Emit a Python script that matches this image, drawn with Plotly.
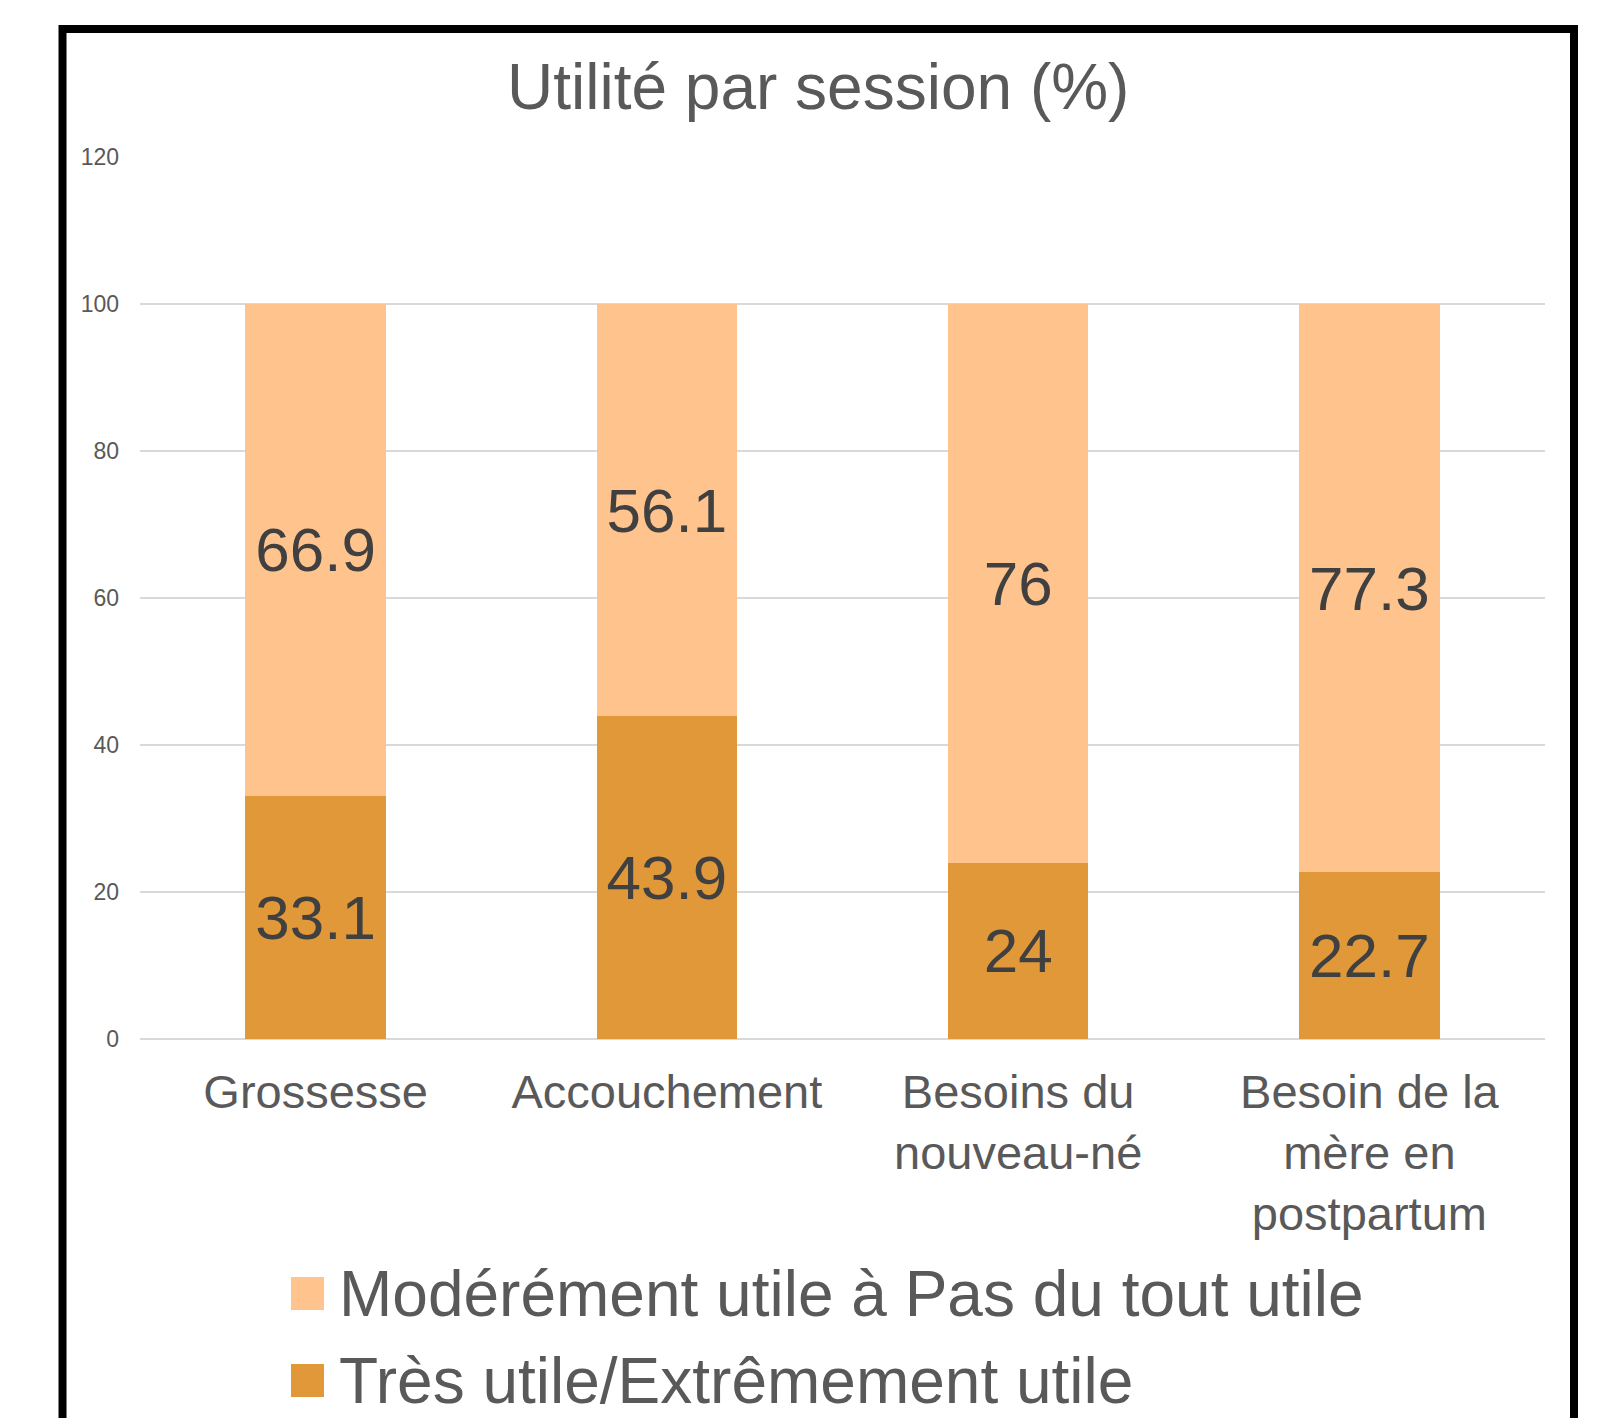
import plotly.graph_objects as go

# ---- data ----
categories = ["Grossesse", "Accouchement", "Besoins du<br>nouveau-né",
              "Besoin de la<br>mère en<br>postpartum"]
series_names = ["Modérément utile à Pas du tout utile", "Très utile/Extrêmement utile"]
tres_utile = [33.1, 43.9, 24, 22.7]
moderement = [66.9, 56.1, 76, 77.3]
y_tickvals = [0, 20, 40, 60, 80, 100, 120]
title_text = "Utilité par session (%)"

# ---- style ----
FONT = "Arial, Liberation Sans, sans-serif"
C_LIGHT = "#FFC38D"
C_DARK = "#E19839"
C_TEXT = "#595959"
C_LABEL = "#404040"
C_GRID = "#D9D9D9"

OFF = 8  # default page body margin
FIG_W, FIG_H = 1609 - OFF, 1418 - OFF
# plot area in page pixels
L, R, T, B = 140, 1545, 157, 1039
PW, PH = R - L, B - T


def px_x(px):
    return (px - L) / PW


def px_y(py):
    return (B - py) / PH


fig = go.Figure()
fig.add_trace(go.Bar(
    x=categories, y=tres_utile, name=series_names[1],
    marker=dict(color=C_DARK, line=dict(width=0)),
    text=[f"{v:g}" for v in tres_utile], textposition="inside",
    insidetextanchor="middle", constraintext="none",
    textfont=dict(family=FONT, size=62, color=C_LABEL),
    showlegend=False,
))
fig.add_trace(go.Bar(
    x=categories, y=moderement, name=series_names[0],
    marker=dict(color=C_LIGHT, line=dict(width=0)),
    text=[f"{v:g}" for v in moderement], textposition="inside",
    insidetextanchor="middle", constraintext="none",
    textfont=dict(family=FONT, size=62, color=C_LABEL),
    showlegend=False,
))

shapes = []
# outer black border
shapes.append(dict(type="rect", xref="paper", yref="paper",
                   x0=px_x(62.5), x1=px_x(1574), y0=px_y(1460), y1=px_y(29),
                   line=dict(color="black", width=8), fillcolor="rgba(0,0,0,0)",
                   layer="above"))

annotations = [dict(text=title_text, xref="paper", yref="paper",
                    x=px_x(818), y=px_y(87), xanchor="center", yanchor="middle",
                    showarrow=False, font=dict(family=FONT, size=64, color=C_TEXT))]

# manual legend
legend_items = [(series_names[0], C_LIGHT, 1277), (series_names[1], C_DARK, 1364)]
for name, col, top in legend_items:
    shapes.append(dict(type="rect", xref="paper", yref="paper",
                       x0=px_x(291), x1=px_x(324), y0=px_y(top + 33), y1=px_y(top),
                       line=dict(width=0), fillcolor=col))
    annotations.append(dict(text=name, xref="paper", yref="paper",
                            x=px_x(337), y=px_y(top + 16.5), xanchor="left", yanchor="middle",
                            showarrow=False, font=dict(family=FONT, size=64, color=C_TEXT)))

fig.update_layout(
    width=FIG_W, height=FIG_H,
    margin=dict(l=L - OFF, r=FIG_W - (R - OFF), t=T - OFF, b=FIG_H - (B - OFF), pad=0),
    barmode="stack", bargap=0.6,
    paper_bgcolor="white", plot_bgcolor="white",
    font=dict(family=FONT, color=C_TEXT),
    shapes=shapes, annotations=annotations,
    showlegend=False,
)
fig.update_xaxes(
    showgrid=False, showline=False, zeroline=False, ticks="",
    tickfont=dict(family=FONT, size=47, color=C_TEXT),
    ticklabelstandoff=21,
)
fig.update_yaxes(
    range=[0, 120], tickvals=y_tickvals,
    showgrid=True, gridcolor=C_GRID, gridwidth=1.5,
    zeroline=True, zerolinecolor=C_GRID, zerolinewidth=1.5,
    showline=False, ticks="",
    tickfont=dict(family=FONT, size=23, color=C_TEXT),
    ticklabelstandoff=20,
)

fig.write_html("out.html")
